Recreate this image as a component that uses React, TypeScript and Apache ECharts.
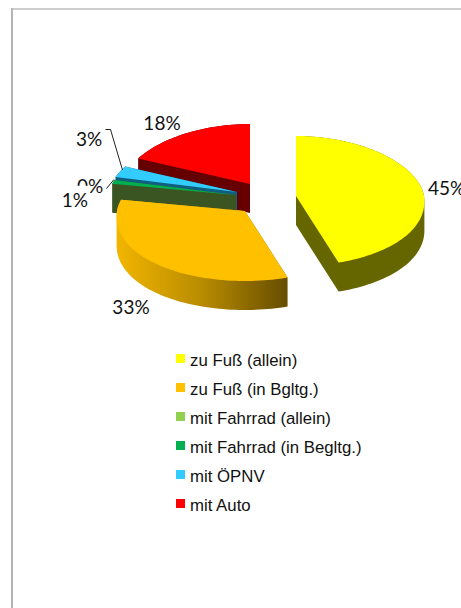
import React, { useEffect, useRef } from "react";
import * as echarts from "echarts";

const categories = ["zu Fuß (allein)", "zu Fuß (in Bgltg.)", "mit Fahrrad (allein)", "mit Fahrrad (in Begltg.)", "mit ÖPNV", "mit Auto"];
const shares = [45, 33, 0, 1, 3, 18];
const topColors = ["#FFFF00", "#FFC000", "#92D050", "#00B050", "#33CCFF", "#FF0000"];

const wallColors: any[] = [
  "#666600",
  new echarts.graphic.LinearGradient(0, 0, 1, 0, [
    { offset: 0, color: "#F2B600" },
    { offset: 0.5, color: "#B88B00" },
    { offset: 1, color: "#664D00" },
  ]),
  "#3A5522",
  "#3A5522",
  "#0F5F80",
  "#660000",
];
// stacking order of the slices, back to front
const zOrder = [6, 5, 3, 4, 2, 1];
// exploded slice apex positions
const apexes = [[296, 196], [245, 211], [236, 195], [236, 195], [237, 192], [250, 184]];
const labelSpots: any[] = [
  { x: 428, y: 187, align: "left" },
  { x: 131, y: 306, align: "center" },
  { x: 90, y: 185, align: "center" },
  { x: 88, y: 199, align: "right", cover: true },
  { x: 89, y: 138, align: "center" },
  { x: 162, y: 122, align: "center" },
];
const leaders: any[] = [
  null,
  null,
  [[106.5, 188.5], [114, 179.5]],
  null,
  [[105.5, 129.5], [110.5, 129.5], [122.5, 170]],
  null,
];

const RX = 128;
const RY_FAR = 60;
const RY_NEAR = 70;
const DEPTH = 29;
const total = shares.reduce((a, b) => a + b, 0);

function rim(ax: number, ay: number, t: number) {
  const s = Math.sin(t);
  const c = Math.cos(t);
  const x = ax + RX * s * (1 - 0.08 * c);
  const y = c >= 0 ? ay - RY_FAR * c : ay - RY_NEAR * c;
  return [x, y];
}

function outline(i: number, value: number) {
  const before = shares.slice(0, i).reduce((a, b) => a + b, 0);
  const a0 = (before / total) * Math.PI * 2;
  const a1 = ((before + value) / total) * Math.PI * 2;
  const [ax, ay] = apexes[i];
  const pts = [[ax, ay]];
  const n = Math.max(2, Math.ceil((a1 - a0) / 0.03));
  for (let k = 0; k <= n; k++) pts.push(rim(ax, ay, a0 + ((a1 - a0) * k) / n));
  return pts;
}

const toPath = (pts: number[][]) =>
  "M" + pts.map((p) => p[0].toFixed(2) + " " + p[1].toFixed(2)).join("L") + "Z";

const area = (pts: number[][]) => {
  let s = 0;
  pts.forEach((p, k) => {
    const q = pts[(k + 1) % pts.length];
    s += p[0] * q[1] - q[0] * p[1];
  });
  return s;
};
const clockwise = (pts: number[][]) => (area(pts) < 0 ? pts.slice().reverse() : pts);

function wallPath(pts: number[][]) {
  const parts = [toPath(clockwise(pts.map((p) => [p[0], p[1] + DEPTH])))];
  pts.forEach((p, k) => {
    const q = pts[(k + 1) % pts.length];
    if (Math.abs(p[0] - q[0]) < 0.001) {
      parts.push(toPath(clockwise([[p[0] - 0.01, p[1]], [q[0] + 0.01, q[1]], [q[0] + 0.01, q[1] + DEPTH], [p[0] - 0.01, p[1] + DEPTH]])));
    } else {
      parts.push(toPath(clockwise([p, q, [q[0], q[1] + DEPTH], [p[0], p[1] + DEPTH]])));
    }
  });
  return parts.join(" ");
}

function makeSeries(i: number) {
  return {
    type: "custom",
    name: categories[i],
    coordinateSystem: "none",
    silent: true,
    z: zOrder[i],
    itemStyle: { color: topColors[i] },
    data: [[shares[i]]],
    renderItem: (_p: any, api: any) => {
      const value = api.value(0);
      const children: any[] = [];
      if (value > 0) {
        const pts = outline(i, value);
        children.push({ type: "path", shape: { pathData: wallPath(pts) }, style: { fill: wallColors[i] } });
        children.push({ type: "path", shape: { pathData: toPath(pts) }, style: { fill: topColors[i] } });
      }
      if (leaders[i]) {
        children.push({
          type: "polyline",
          shape: { points: leaders[i] },
          style: { fill: "none", stroke: "#222222", lineWidth: 1 },
        });
      }
      const spot = labelSpots[i];
      children.push({
        type: "text",
        x: spot.x,
        y: spot.y,
        style: {
          text: value + "%",
          font: "19px Lato",
          fill: "#111111",
          align: spot.align,
          verticalAlign: "middle",
          ...(spot.cover ? { backgroundColor: "#ffffff", padding: [7.5, 0, 0, 3] } : {}),
        },
      });
      return { type: "group", children };
    },
  };
}

export default function App() {
  const ref = useRef<HTMLDivElement>(null);
  useEffect(() => {
    const chart = echarts.init(ref.current!, null, { renderer: "svg" });
    chart.setOption({
      animation: false,
      backgroundColor: "#ffffff",
      graphic: [
        { type: "line", shape: { x1: 12, y1: 8, x2: 12, y2: 608 }, style: { stroke: "#b4b4b4", lineWidth: 2 } },
        { type: "line", shape: { x1: 12, y1: 9, x2: 461, y2: 9 }, style: { stroke: "#bcbcbc", lineWidth: 1.5 } },
      ],
      legend: {
        data: categories,
        orient: "vertical",
        left: 176,
        top: 352,
        icon: "path://M0 0L9 0L9 9L0 9Z M0 13L0.001 13",
        itemWidth: 9,
        itemHeight: 13,
        itemGap: 12,
        padding: 0,
        selectedMode: false,
        textStyle: { fontFamily: "Liberation Sans", fontSize: 16.8, color: "#111111", lineHeight: 16 },
      },
      series: categories.map((_, i) => makeSeries(i)),
    });
    return () => chart.dispose();
  }, []);
  return <div ref={ref} style={{ position: "absolute", left: 0, top: 0, width: 461, height: 608 }} />;
}
